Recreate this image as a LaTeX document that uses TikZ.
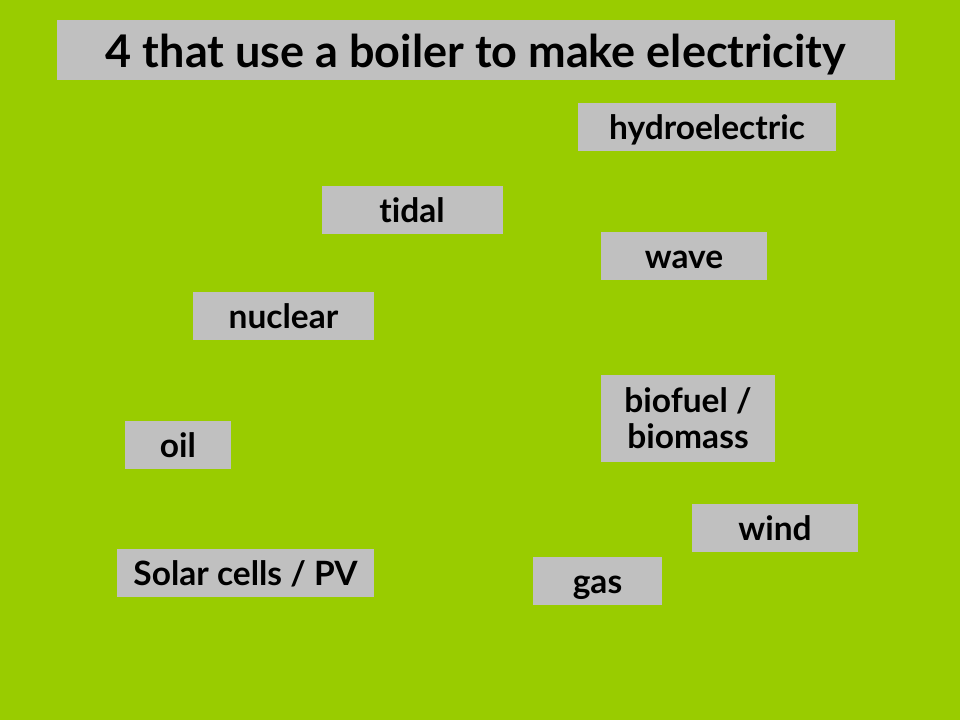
\documentclass[tikz,border=0pt]{standalone}
\usepackage{fontspec}
\setmainfont{Lato}[Ligatures={NoCommon,NoRare}]
\usepackage{tikz}
\usetikzlibrary{positioning}

\definecolor{slidegreen}{RGB}{153,204,0}
\definecolor{cardgray}{RGB}{192,192,192}

\begin{document}
\begin{tikzpicture}[x=1pt,y=-1pt,
		card/.style={fill=cardgray, inner sep=0pt, minimum height=48pt, align=center, text=black,
			text height=24pt, text depth=0pt, font=\fontsize{33.5}{36}\selectfont\bfseries},
		heading/.style={card, minimum height=60pt, text height=35pt, font=\fontsize{45}{50}\selectfont\bfseries}]

	\fill[slidegreen] (0,0) rectangle (960,720);

	\node[heading, minimum width=838pt] (title) at (476,50) {4 that use a boiler to make electricity};

	\node[card, minimum width=258pt] (hydro) at (707,127) {hydroelectric};
	\node[card, minimum width=181pt] (tidal) at (412,210) {tidal};
	\node[card, minimum width=166pt] (wave) at (684,256) {wave};
	\node[card, minimum width=181pt] (nuclear) at (283.5,316) {nuclear};
	\node[card, minimum width=174pt, minimum height=87pt, text height={}, text depth={}] (bio) at (688,418.5) {biofuel /\\ biomass};
	\node[card, minimum width=106pt] (oil) at (178,445) {oil};
	\node[card, minimum width=166pt] (wind) at (775,528) {wind};
	\node[card, minimum width=257pt] (solar) at (245.5,573) {Solar cells / PV};
	\node[card, minimum width=129pt] (gas) at (597.5,581) {gas};
\end{tikzpicture}
\end{document}
